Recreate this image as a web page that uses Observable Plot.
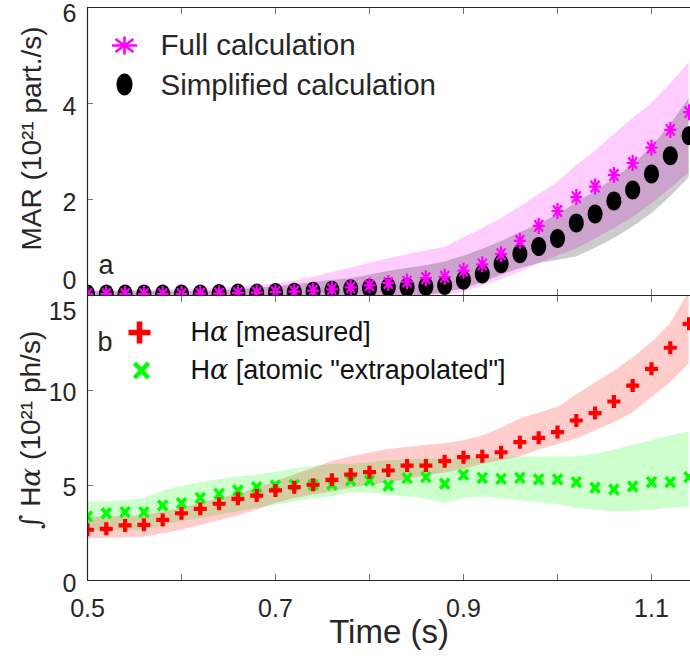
<!DOCTYPE html>
<html>
<head>
<meta charset="utf-8">
<script src="https://cdn.jsdelivr.net/npm/d3@7"></script>
<script src="https://cdn.jsdelivr.net/npm/@observablehq/plot@0.6"></script>
<style>
html, body { margin: 0; padding: 0; background: #fff; }
#chart { width: 690px; height: 658px; overflow: hidden; background: #fff; }
#chart svg { display: block; }
</style>
</head>
<body>
<div id="chart"></div>
<script>
// ---------- data ----------
const time = [0.50, 0.52, 0.54, 0.56, 0.58, 0.60, 0.62, 0.64, 0.66, 0.68, 0.70, 0.72, 0.74, 0.76, 0.78, 0.80, 0.82,
  0.84, 0.86, 0.88, 0.90, 0.92, 0.94, 0.96, 0.98, 1.00, 1.02, 1.04, 1.06, 1.08, 1.10, 1.12, 1.14];

// panel a: MAR (10^21 part./s)
const marFull = [0.03, 0.03, 0.03, 0.03, 0.03, 0.03, 0.04, 0.04, 0.05, 0.06, 0.07, 0.08, 0.10, 0.13, 0.17, 0.21, 0.26,
  0.29, 0.36, 0.39, 0.52, 0.65, 0.86, 1.14, 1.45, 1.76, 2.05, 2.27, 2.51, 2.76, 3.08, 3.45, 3.82];
const marFullLo = [-0.1, -0.1, -0.1, -0.1, -0.1, -0.1, -0.1, -0.1, -0.1, -0.1, -0.1, -0.1, -0.1, -0.1, -0.1, -0.1, -0.1,
  -0.1, -0.1, 0.0, 0.07, 0.20, 0.33, 0.48, 0.66, 0.82, 0.97, 1.17, 1.39, 1.62, 1.90, 2.22, 2.55];
const marFullHi = [0.10, 0.10, 0.10, 0.11, 0.12, 0.13, 0.14, 0.16, 0.18, 0.21, 0.24, 0.30, 0.38, 0.48, 0.57, 0.67, 0.76,
  0.85, 0.93, 1.00, 1.20, 1.39, 1.60, 1.84, 2.10, 2.35, 2.70, 3.00, 3.35, 3.68, 4.00, 4.40, 4.85];
const marSimp = [0.03, 0.03, 0.03, 0.03, 0.03, 0.03, 0.03, 0.04, 0.05, 0.05, 0.06, 0.07, 0.09, 0.11, 0.14, 0.15, 0.17,
  0.17, 0.19, 0.21, 0.32, 0.45, 0.66, 0.87, 1.02, 1.19, 1.51, 1.70, 1.97, 2.20, 2.53, 2.91, 3.33];
const marSimpLo = [-0.1, -0.1, -0.1, -0.1, -0.1, -0.1, -0.1, -0.1, -0.1, -0.1, -0.1, -0.1, -0.1, -0.1, -0.1, -0.1, -0.1,
  -0.1, 0.0, 0.05, 0.14, 0.26, 0.42, 0.56, 0.66, 0.73, 0.80, 0.98, 1.18, 1.42, 1.70, 2.05, 2.45];
const marSimpHi = [0.08, 0.08, 0.08, 0.08, 0.08, 0.08, 0.08, 0.10, 0.12, 0.15, 0.18, 0.22, 0.27, 0.31, 0.35, 0.42, 0.50,
  0.56, 0.62, 0.70, 0.82, 0.96, 1.12, 1.30, 1.48, 1.68, 1.92, 2.16, 2.42, 2.72, 3.08, 3.55, 4.10];

// panel b: integrated H-alpha (10^21 ph/s)
const haMeasured = [2.67, 2.72, 2.90, 2.93, 3.19, 3.54, 3.77, 4.04, 4.30, 4.47, 4.74, 4.91, 5.04, 5.30, 5.58, 5.70, 5.79,
  6.05, 6.05, 6.28, 6.49, 6.54, 6.75, 7.28, 7.51, 7.81, 8.42, 8.81, 9.42, 10.26, 11.14, 12.25, 13.51];
const haMeasuredLo = [2.20, 2.22, 2.25, 2.28, 2.45, 2.65, 2.90, 3.15, 3.40, 3.70, 4.05, 4.30, 4.50, 4.65, 4.85, 5.00, 5.15,
  5.30, 5.50, 5.65, 5.85, 6.10, 6.30, 6.50, 6.85, 7.15, 7.45, 7.85, 8.30, 8.80, 9.60, 10.40, 11.40];
const haMeasuredHi = [3.30, 3.35, 3.35, 3.40, 3.60, 3.80, 4.05, 4.30, 4.55, 4.85, 5.20, 5.55, 5.90, 6.25, 6.50, 6.70, 6.90,
  7.00, 7.10, 7.20, 7.35, 7.60, 8.00, 8.50, 8.80, 9.10, 9.75, 10.40, 11.00, 11.70, 12.50, 13.50, 15.20];
const haAtomic = [3.37, 3.54, 3.60, 3.60, 3.95, 4.07, 4.35, 4.56, 4.74, 4.91, 5.00, 5.04, 5.04, 5.05, 5.26, 5.26, 5.00,
  5.39, 5.44, 5.09, 5.56, 5.40, 5.35, 5.40, 5.32, 5.32, 5.18, 4.88, 4.79, 4.95, 5.18, 5.18, 5.44];
const haAtomicLo = [2.60, 2.60, 2.62, 2.63, 2.85, 3.10, 3.25, 3.45, 3.60, 3.80, 3.95, 4.15, 4.30, 4.40, 4.60, 4.60, 4.50,
  4.40, 4.30, 4.04, 4.30, 4.40, 4.30, 4.20, 4.10, 4.00, 3.80, 3.70, 3.60, 3.65, 3.70, 3.80, 3.86];
const haAtomicHi = [4.12, 4.15, 4.20, 4.30, 4.70, 4.95, 5.15, 5.30, 5.45, 5.55, 5.70, 5.85, 6.00, 6.10, 6.10, 6.20, 6.30,
  6.35, 6.40, 6.40, 6.42, 6.45, 6.48, 6.50, 6.50, 6.50, 6.50, 6.65, 6.85, 7.10, 7.35, 7.60, 7.80];

// ticks, labels, domains
const timeDomain = [0.5, 1.1415];
const marDomain = [0, 6];
const haDomain = [0, 15];
const timeTicks = [0.5, 0.6, 0.7, 0.8, 0.9, 1.0, 1.1];
const timeTickLabels = [0.5, 0.7, 0.9, 1.1];
const marTicks = [0, 2, 4, 6];
const haTicks = [0, 5, 10, 15];
const marLegend = ["Full calculation", "Simplified calculation"];
const haLegend = ["Hα [measured]", "Hα [atomic \"extrapolated\"]"];
const marTitle = "MAR (10²¹ part./s)";
const haTitle = "∫ Hα (10²¹ ph/s)";
const timeTitle = "Time (s)";
const panelTags = ["a", "b"];

// ---------- helpers ----------
const INK = "#262626";
const FONT = "'Liberation Sans', Arial, Helvetica, sans-serif";
const K = 0.5523;
function ellipseSymbol(rx, ry) {
  return {draw(c) {
    c.moveTo(rx, 0);
    c.bezierCurveTo(rx, K * ry, K * rx, ry, 0, ry);
    c.bezierCurveTo(-K * rx, ry, -rx, K * ry, -rx, 0);
    c.bezierCurveTo(-rx, -K * ry, -K * rx, -ry, 0, -ry);
    c.bezierCurveTo(K * rx, -ry, rx, -K * ry, rx, 0);
    c.closePath();
  }};
}
function asteriskSymbol(rx, ry) {
  const a = rx * 0.72, b = ry * 0.72;
  return {draw(c) {
    c.moveTo(-rx, 0); c.lineTo(rx, 0);
    c.moveTo(0, -ry); c.lineTo(0, ry);
    c.moveTo(-a, -b); c.lineTo(a, b);
    c.moveTo(-a, b); c.lineTo(a, -b);
  }};
}
function plusSymbol(L, w) {
  return {draw(c) {
    c.moveTo(-w, -L); c.lineTo(w, -L); c.lineTo(w, -w); c.lineTo(L, -w); c.lineTo(L, w); c.lineTo(w, w);
    c.lineTo(w, L); c.lineTo(-w, L); c.lineTo(-w, w); c.lineTo(-L, w); c.lineTo(-L, -w); c.lineTo(-w, -w);
    c.closePath();
  }};
}
function xSymbol(rx, ry) {
  return {draw(c) {
    c.moveTo(-rx, -ry); c.lineTo(rx, ry);
    c.moveTo(-rx, ry); c.lineTo(rx, -ry);
  }};
}
function styleMath(svg) {
  svg.querySelectorAll("text").forEach((t) => {
    const s = t.textContent;
    if (!/[α∫]/.test(s) || t.querySelector("tspan")) return;
    t.textContent = "";
    for (const part of s.split(/([α∫])/)) {
      if (!part) continue;
      const ts = document.createElementNS("http://www.w3.org/2000/svg", "tspan");
      ts.textContent = part;
      if (part === "α" || part === "∫") {
        ts.setAttribute("font-style", "italic");
        ts.setAttribute("font-family", "'DejaVu Serif', serif");
      }
      t.appendChild(ts);
    }
  });
}

const rowsA = time.map((t, i) => ({t, full: marFull[i], fullLo: marFullLo[i], fullHi: marFullHi[i],
  simp: marSimp[i], simpLo: marSimpLo[i], simpHi: marSimpHi[i]}));
const rowsB = time.map((t, i) => ({t, meas: haMeasured[i], measLo: haMeasuredLo[i], measHi: haMeasuredHi[i],
  atom: haAtomic[i], atomLo: haAtomicLo[i], atomHi: haAtomicHi[i]}));

const fmt = (d) => `${d}`;
const tickStyle = {stroke: INK, strokeOpacity: 0.65, strokeWidth: 1, fill: "none", label: null, tickSize: -6};
const yLabelStyle = {tickSize: 0, tickPadding: 11, fontSize: 25, fill: INK, stroke: "none", label: null, tickFormat: fmt};
const legendText = {text: (d) => d, frameAnchor: "top-left", textAnchor: "start", lineAnchor: "middle"};
const yTitle = {text: (d) => d, frameAnchor: "left", rotate: -90, textAnchor: "middle", lineAnchor: "middle", fontSize: 28, fill: INK};

// ---------- panel a ----------
const panelA = Plot.plot({
  width: 690, height: 295,
  marginTop: 7, marginBottom: 0, marginLeft: 87, marginRight: 0,
  style: {fontFamily: FONT, background: "white"},
  x: {domain: timeDomain, axis: null},
  y: {domain: marDomain, axis: null},
  marks: [
    Plot.areaY(rowsA, {x: "t", y1: "fullLo", y2: "fullHi", fill: "#ff00ff", fillOpacity: 0.2, clip: true}),
    Plot.areaY(rowsA, {x: "t", y1: "simpLo", y2: "simpHi", fill: "#000000", fillOpacity: 0.2, clip: true}),
    Plot.dot(rowsA, {x: "t", y: "simp", symbol: ellipseSymbol(7.5, 9.5), r: 5, fill: "#000", stroke: "none", clip: true}),
    Plot.dot(rowsA, {x: "t", y: "full", symbol: asteriskSymbol(6, 8), r: 5, fill: "none", stroke: "#ff00ff", strokeWidth: 2.2, clip: true}),
    // frame lines
    Plot.ruleX([timeDomain[0]], {stroke: INK, strokeWidth: 1.2}),
    Plot.ruleY([marDomain[1]], {stroke: INK, strokeWidth: 1.2}),
    // inward ticks
    Plot.axisX(timeTicks, {anchor: "bottom", ...tickStyle}),
    Plot.axisX(timeTicks, {anchor: "top", ...tickStyle}),
    Plot.axisY(marTicks, {anchor: "left", ...tickStyle}),
    // tick labels
    Plot.axisY(marTicks.slice(1, 3), {anchor: "left", ...yLabelStyle, dy: 3}),
    Plot.axisY(marTicks.slice(3), {anchor: "left", ...yLabelStyle, dy: 6}),
    Plot.axisY(marTicks.slice(0, 1), {anchor: "left", ...yLabelStyle, dy: -15}),
    // axis title
    Plot.text([marTitle], {...yTitle, dx: -55, dy: -13}),
    // legend
    Plot.dot([marLegend[0]], {frameAnchor: "top-left", dx: 37, dy: 38, symbol: asteriskSymbol(12.5, 9), r: 5, fill: "none", stroke: "#ff00ff", strokeWidth: 2.6}),
    Plot.dot([marLegend[1]], {frameAnchor: "top-left", dx: 37, dy: 77, symbol: ellipseSymbol(8, 11), r: 5, fill: "#000", stroke: "none"}),
    Plot.text([marLegend[0]], {...legendText, dx: 73, dy: 38, fontSize: 29.5, fill: INK}),
    Plot.text([marLegend[1]], {...legendText, dx: 73, dy: 78, fontSize: 29.5, fill: INK}),
    Plot.text([panelTags[0]], {...legendText, dx: 11, dy: 258, fontSize: 27, fill: INK})
  ]
});

// ---------- panel b ----------
const panelB = Plot.plot({
  width: 690, height: 363,
  marginTop: 0, marginBottom: 78, marginLeft: 87, marginRight: 0,
  style: {fontFamily: FONT, background: "white"},
  x: {domain: timeDomain, axis: null},
  y: {domain: haDomain, axis: null},
  marks: [
    Plot.areaY(rowsB, {x: "t", y1: "atomLo", y2: "atomHi", fill: "#00ff00", fillOpacity: 0.2, clip: true}),
    Plot.areaY(rowsB, {x: "t", y1: "measLo", y2: "measHi", fill: "#ff0000", fillOpacity: 0.2, clip: true}),
    Plot.dot(rowsB, {x: "t", y: "atom", symbol: xSymbol(4.5, 5), r: 5, fill: "none", stroke: "#00ff00", strokeWidth: 3.6, clip: true}),
    Plot.dot(rowsB, {x: "t", y: "meas", symbol: plusSymbol(6.5, 2.1), r: 5, fill: "#ff0000", stroke: "none", clip: true}),
    // frame lines
    Plot.ruleX([timeDomain[0]], {stroke: INK, strokeWidth: 1.2}),
    Plot.ruleY([haDomain[1]], {stroke: INK, strokeWidth: 1.2}),
    Plot.ruleY([haDomain[0]], {stroke: INK, strokeWidth: 1.2}),
    // inward ticks
    Plot.axisX(timeTicks, {anchor: "bottom", ...tickStyle}),
    Plot.axisX(timeTicks, {anchor: "top", ...tickStyle}),
    Plot.axisY(haTicks, {anchor: "left", ...tickStyle}),
    // tick labels
    Plot.axisY(haTicks.slice(1, 3), {anchor: "left", ...yLabelStyle, dy: 2}),
    Plot.axisY(haTicks.slice(0, 1), {anchor: "left", ...yLabelStyle, dy: 3}),
    Plot.axisY(haTicks.slice(3), {anchor: "left", ...yLabelStyle, dy: 16}),
    Plot.axisX(timeTickLabels, {anchor: "bottom", tickSize: 0, tickPadding: 19, fontSize: 25, fill: INK, stroke: "none", label: null, tickFormat: fmt}),
    // axis titles
    Plot.text([haTitle], {...yTitle, dx: -56, dy: -8}),
    Plot.text([timeTitle], {text: (d) => d, frameAnchor: "bottom", textAnchor: "middle", lineAnchor: "middle", dy: 52, fontSize: 33, fill: INK}),
    // legend
    Plot.dot([haLegend[0]], {frameAnchor: "top-left", dx: 52, dy: 37, symbol: plusSymbol(11, 2.8), r: 5, fill: "#ff0000", stroke: "none"}),
    Plot.dot([haLegend[1]], {frameAnchor: "top-left", dx: 54, dy: 75, symbol: xSymbol(7, 7.5), r: 5, fill: "none", stroke: "#00ff00", strokeWidth: 4.5}),
    Plot.text([haLegend[0]], {...legendText, dx: 103, dy: 37, fontSize: 27, fill: "#111"}),
    Plot.text([haLegend[1]], {...legendText, dx: 103, dy: 75, fontSize: 27, fill: "#111"}),
    Plot.text([panelTags[1]], {...legendText, dx: 10, dy: 47, fontSize: 27, fill: INK})
  ]
});

styleMath(panelA);
styleMath(panelB);
const chart = document.getElementById("chart");
chart.appendChild(panelA);
chart.appendChild(panelB);
</script>
</body>
</html>
